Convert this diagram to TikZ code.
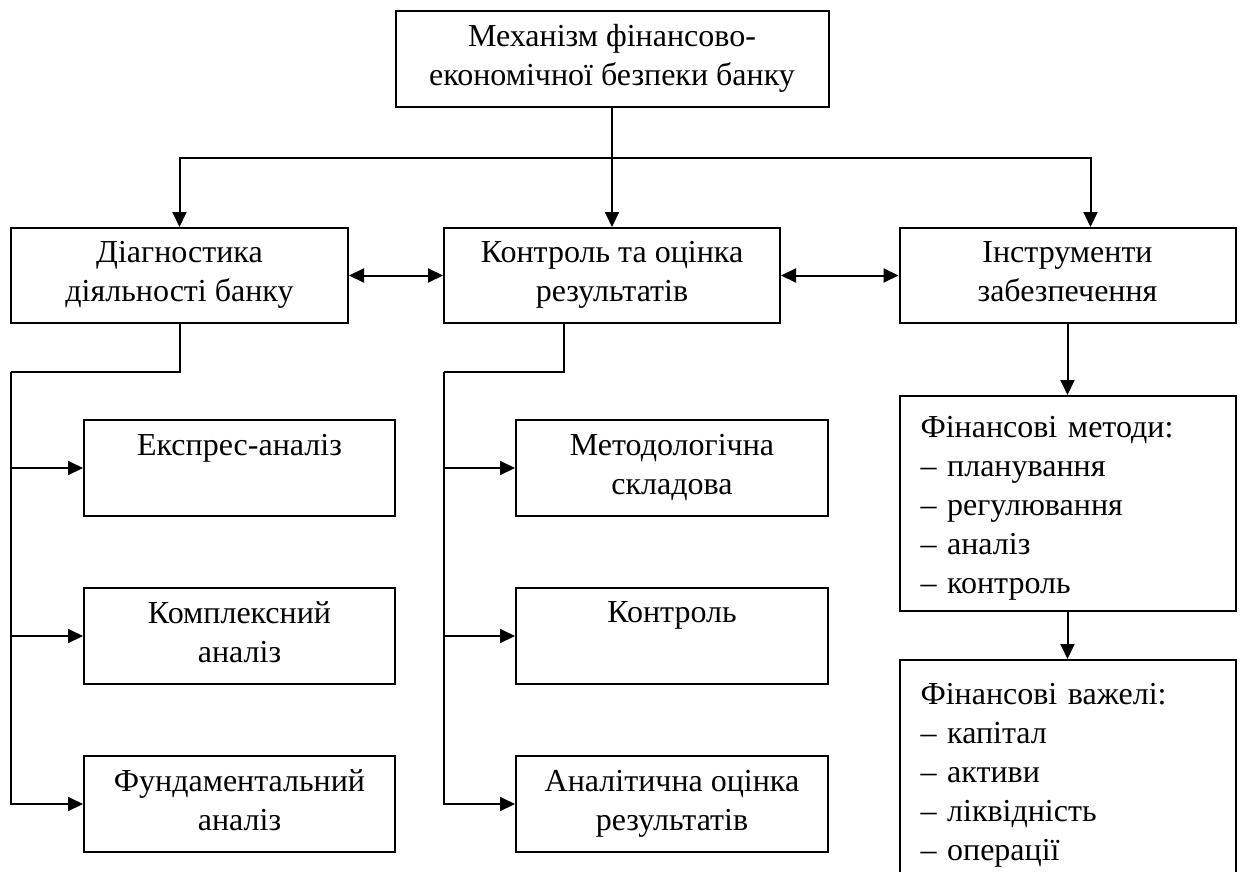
\documentclass[tikz,border=0pt]{standalone}
\usepackage{fontspec}
\setmainfont{Liberation Serif}
\usepackage{tikz}
\usetikzlibrary{arrows.meta,positioning}
\tikzstyle{block} = [rectangle, draw, line width=2pt, inner sep=0pt, minimum height=96pt, align=center, font=\fontsize{32}{39}\selectfont,
    execute at begin node={\rule{0pt}{32pt}}, execute at end node={\rule[-8pt]{0pt}{8pt}}]
\tikzstyle{listbox} = [block, minimum width=336pt, text width=294pt, align=left]
\tikzstyle{link} = [line width=2pt]
\tikzstyle{arrow} = [line width=2pt, -{Triangle[length=15pt,width=14pt]}]
\tikzstyle{biarrow} = [line width=2pt, {Triangle[length=15pt,width=14pt]}-{Triangle[length=15pt,width=14pt]}]

\begin{document}
\begin{tikzpicture}[x=1pt,y=-1pt]
\useasboundingbox (0,0) rectangle (1242,872);
\clip (0,0) rectangle (1242,872);

% Top
\node[block, minimum width=433pt] (mech) at (612,59) {Механізм фінансово-\\економічної безпеки банку};

% Second row
\node[block, minimum width=337pt, minimum height=95pt] (diag) at (179.5,275.5) {Діагностика\\діяльності банку};
\node[block, minimum width=336pt, minimum height=95pt] (contr) at (612,275.5) {Контроль та оцінка\\результатів};
\node[block, minimum width=336pt, minimum height=95pt] (instr) at (1067.5,275.5) {Інструменти\\забезпечення};

% Diagnostics
\node[block, minimum width=311pt] (express) at (239.5,468) {Експрес-аналіз\\\mbox{}};
\node[block, minimum width=311pt] (complex) at (239.5,636) {Комплексний\\аналіз};
\node[block, minimum width=311pt] (fundam) at (239.5,804) {Фундаментальний\\аналіз};

% Control
\node[block, minimum width=312pt] (method) at (672,468) {Методологічна\\складова};
\node[block, minimum width=312pt] (control) at (672,636) {Контроль\\\mbox{}};
\node[block, minimum width=312pt] (analyt) at (672,804) {Аналітична оцінка\\результатів};

% Instruments
\node[listbox, minimum height=215pt] (fmeth) at (1067.5,503.5) {Фінансові методи:\\– планування\\– регулювання\\– аналіз\\– контроль};
\node[listbox, minimum height=220pt] (flev) at (1067.5,770) {Фінансові важелі:\\– капітал\\– активи\\– ліквідність\\– операції};

% Connectors
\coordinate (hub) at (612,158);
\draw[link] (mech.south) -- (hub);
\draw[arrow] (hub) -- (contr.north);
\draw[arrow] (hub) -| (diag.north);
\draw[arrow] (hub) -| ([xshift=23pt]instr.north);

\draw[biarrow] (diag.east) -- (contr.west);
\draw[biarrow] (contr.east) -- (instr.west);

\coordinate (dbus) at (11,372);
\draw[link] (diag.south) |- (dbus);
\draw[arrow] (dbus) |- (fundam.west);
\foreach \n in {express,complex}
    \draw[arrow] (dbus |- \n.west) -- (\n.west);

\coordinate (cbus) at (444,372);
\draw[link] ([xshift=-48.5pt]contr.south) |- (cbus);
\draw[arrow] (cbus) |- (analyt.west);
\foreach \n in {method,control}
    \draw[arrow] (cbus |- \n.west) -- (\n.west);

\draw[arrow] (instr.south) -- (fmeth.north);
\draw[arrow] (fmeth.south) -- (flev.north);
\end{tikzpicture}
\end{document}
